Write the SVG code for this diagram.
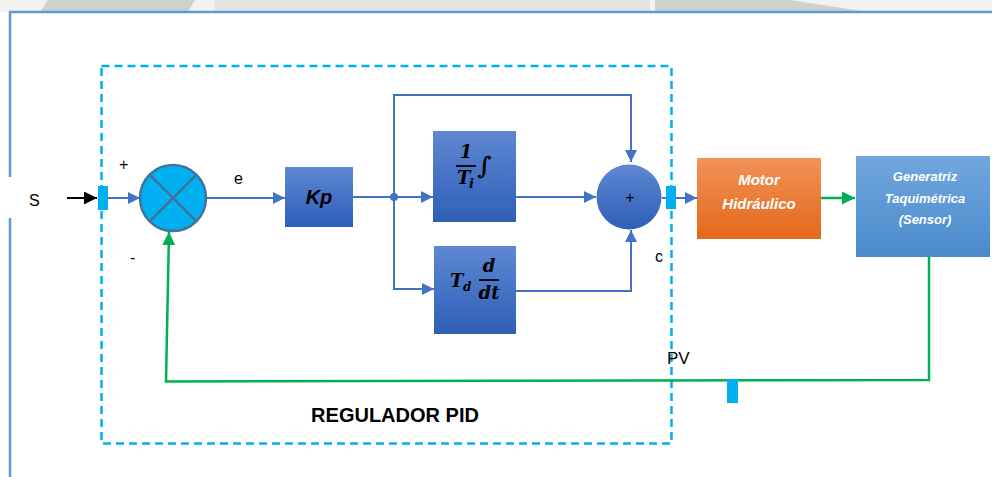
<svg xmlns="http://www.w3.org/2000/svg" width="992" height="477" viewBox="0 0 992 477">
<defs>
<linearGradient id="gBlue" x1="0" y1="0" x2="0" y2="1"><stop offset="0" stop-color="#5F88D2"/><stop offset="1" stop-color="#2E5EB8"/></linearGradient>
<linearGradient id="gSens" x1="0" y1="0" x2="0" y2="1"><stop offset="0" stop-color="#71A7DE"/><stop offset="1" stop-color="#4A8ACB"/></linearGradient>
<linearGradient id="gMotor" x1="0" y1="0" x2="0" y2="1"><stop offset="0" stop-color="#F39259"/><stop offset="1" stop-color="#E3681A"/></linearGradient>
<marker id="aBlue" viewBox="0 0 10 10" refX="10" refY="5" markerWidth="12" markerHeight="12" markerUnits="userSpaceOnUse" orient="auto"><path d="M0,0 L10,5 L0,10 z" fill="#4472C4"/></marker>
<marker id="aGreen" viewBox="0 0 10 10" refX="10" refY="5" markerWidth="13" markerHeight="13" markerUnits="userSpaceOnUse" orient="auto"><path d="M0,0 L10,5 L0,10 z" fill="#00B050"/></marker>
<marker id="aBlack" viewBox="0 0 10 10" refX="10" refY="5" markerWidth="13" markerHeight="13" markerUnits="userSpaceOnUse" orient="auto"><path d="M0,0 L10,5 L0,10 z" fill="#000"/></marker>
<style>
.bl{fill:none;stroke:#4472C4;stroke-width:2}
.gr{fill:none;stroke:#00B050;stroke-width:2.5}
.lbl{font-family:"Liberation Sans",Arial,sans-serif;font-size:16px;fill:#000}
.math{font-family:"DejaVu Serif","Liberation Serif",serif;font-weight:bold;font-style:italic;fill:#000}
.wt{font-family:"Liberation Sans",Arial,sans-serif;font-weight:bold;font-style:italic;fill:#fff;text-anchor:middle}
.cy{fill:#00B0F0}
</style>
</defs>
<rect width="992" height="477" fill="#fff"/>
<g id="watermark">
<rect x="0" y="0" width="992" height="12" fill="#F2F3F1"/>
<polygon points="48,0 195,0 188,12 40,12" fill="#CDD2CA"/>
<rect x="215" y="0" width="435" height="12" fill="#E2E5E0"/>
<polygon points="655,0 790,0 868,12 655,12" fill="#CDD2CA"/>
</g>
<g id="frame">
<path d="M10,477 V12 H992" fill="none" stroke="#5B9BD5" stroke-width="2.5"/>
<rect x="0" y="177" width="13" height="41" fill="#fff"/>
</g>
<g id="regulador">
<rect x="101.5" y="66" width="570" height="377.5" fill="none" stroke="#00B0F0" stroke-width="2.5" stroke-dasharray="8,5"/>
<text x="395" y="422" text-anchor="middle" font-family="Liberation Sans,Arial,sans-serif" font-weight="bold" font-size="20" fill="#000">REGULADOR PID</text>
</g>
<g id="connectors">
<line x1="67" y1="198" x2="97" y2="198" stroke="#000" stroke-width="2" marker-end="url(#aBlack)"/>
<line x1="108" y1="198" x2="140" y2="198" class="bl" marker-end="url(#aBlue)"/>
<line x1="206" y1="198" x2="285" y2="198" class="bl" marker-end="url(#aBlue)"/>
<line x1="353" y1="197" x2="433" y2="197" class="bl" marker-end="url(#aBlue)"/>
<path d="M394,197 V95 H631 V162" class="bl" marker-end="url(#aBlue)"/>
<path d="M394,197 V289 H434" class="bl" marker-end="url(#aBlue)"/>
<line x1="516" y1="197" x2="596" y2="197" class="bl" marker-end="url(#aBlue)"/>
<path d="M516,291 H631 V230" class="bl" marker-end="url(#aBlue)"/>
<line x1="662" y1="198" x2="697" y2="198" class="bl" marker-end="url(#aBlue)"/>
<line x1="821" y1="198" x2="855" y2="198" class="gr" marker-end="url(#aGreen)"/>
<path d="M929,257 V380 L166,381.5 L169,232" class="gr" marker-end="url(#aGreen)"/>
<circle cx="394" cy="197" r="4" fill="#4472C4"/>
</g>
<g id="in-port"><rect x="98" y="186" width="10" height="24" class="cy"/></g>
<g id="out-port"><rect x="666" y="186" width="10" height="23" class="cy"/></g>
<g id="pv-port"><rect x="727" y="379" width="11" height="24" class="cy"/></g>
<g id="label-s"><text x="29" y="206" class="lbl">S</text></g>
<g id="labels">
<text x="119" y="170" class="lbl" font-size="14">+</text>
<text x="130" y="263" class="lbl" font-size="14">-</text>
<text x="234" y="184" class="lbl">e</text>
<text x="655" y="262" class="lbl">c</text>
<text x="667" y="364" font-family="Liberation Sans Narrow,Liberation Sans,Arial,sans-serif" font-size="17" fill="#000">PV</text>
</g>
<g id="comparador">
<circle cx="173" cy="198" r="33" fill="#00B0F0" stroke="#41719C" stroke-width="2.5"/>
<path d="M149.7,174.7 L196.3,221.3 M196.3,174.7 L149.7,221.3" stroke="#41719C" stroke-width="2.5"/>
</g>
<g id="kp">
<rect x="285" y="167" width="68" height="60" fill="url(#gBlue)"/>
<text x="319" y="204" text-anchor="middle" font-family="Liberation Sans,Arial,sans-serif" font-weight="bold" font-style="italic" font-size="20" fill="#000">Kp</text>
</g>
<g id="integral">
<rect x="433" y="131" width="83" height="91" fill="url(#gBlue)"/>
<text x="466" y="158" text-anchor="middle" class="math" font-style="normal" font-size="18">1</text>
<line x1="456" y1="166" x2="476" y2="166" stroke="#000" stroke-width="1.8"/>
<text x="457" y="184" class="math" font-size="18">T</text>
<text x="469" y="188" class="math" font-size="13">i</text>
<text x="477" y="174" class="math" font-size="24" font-weight="normal" font-style="normal">∫</text>
</g>
<g id="derivative">
<rect x="434" y="246" width="82" height="88" fill="url(#gBlue)"/>
<text x="450" y="287" class="math" font-size="18">T</text>
<text x="463" y="291" class="math" font-size="12">d</text>
<text x="489" y="272" text-anchor="middle" class="math" font-size="18">d</text>
<line x1="479" y1="280" x2="499" y2="280" stroke="#000" stroke-width="1.8"/>
<text x="489" y="299" text-anchor="middle" class="math" font-size="18">dt</text>
</g>
<g id="sumador">
<circle cx="629" cy="197" r="32.5" fill="url(#gBlue)"/>
<text x="630" y="203" text-anchor="middle" font-family="Liberation Sans,Arial,sans-serif" font-size="16" fill="#000">+</text>
</g>
<g id="motor">
<rect x="697" y="158" width="124" height="81" fill="url(#gMotor)"/>
<text x="759" y="185" class="wt" font-size="15">Motor</text>
<text x="759" y="209" class="wt" font-size="15">Hidráulico</text>
</g>
<g id="sensor">
<rect x="856" y="156" width="134" height="101" fill="url(#gSens)"/>
<text x="925" y="181" class="wt" font-size="13">Generatriz</text>
<text x="925" y="203" class="wt" font-size="13">Taquimétrica</text>
<text x="925" y="224" class="wt" font-size="13">(Sensor)</text>
</g>
</svg>
